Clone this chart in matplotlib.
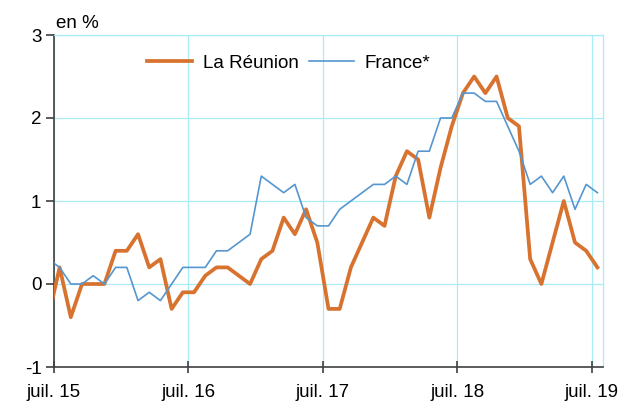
import matplotlib
matplotlib.use("Agg")
import matplotlib.pyplot as plt
import numpy as np

plt.rcParams['font.family'] = ['Liberation Sans', 'DejaVu Sans']

# monthly values, jun 2015 .. jul 2019 (first point falls just left of the axis)
reunion = [-0.4, 0.2, -0.4, 0.0, 0.0, 0.0, 0.4, 0.4, 0.6, 0.2, 0.3, -0.3, -0.1,
           -0.1, 0.1, 0.2, 0.2, 0.1, 0.0, 0.3, 0.4, 0.8, 0.6, 0.9, 0.5,
           -0.3, -0.3, 0.2, 0.5, 0.8, 0.7, 1.3, 1.6, 1.5, 0.8, 1.4, 1.9,
           2.3, 2.5, 2.3, 2.5, 2.0, 1.9, 0.3, 0.0, 0.5, 1.0, 0.5, 0.4, 0.2]
france = [0.3, 0.2, 0.0, 0.0, 0.1, 0.0, 0.2, 0.2, -0.2, -0.1, -0.2, 0.0, 0.2,
          0.2, 0.2, 0.4, 0.4, 0.5, 0.6, 1.3, 1.2, 1.1, 1.2, 0.8, 0.7,
          0.7, 0.9, 1.0, 1.1, 1.2, 1.2, 1.3, 1.2, 1.6, 1.6, 2.0, 2.0,
          2.3, 2.3, 2.2, 2.2, 1.9, 1.6, 1.2, 1.3, 1.1, 1.3, 0.9, 1.2, 1.1]
tick_labels = ['juil. 15', 'juil. 16', 'juil. 17', 'juil. 18', 'juil. 19']

months = np.arange(-1, len(reunion) - 1) + 0.5  # points sit mid-month
grid_col = '#a8ecf8'
axis_col = '#404040'

fig = plt.figure(figsize=(6.25, 4.01), dpi=100)
ax = fig.add_axes([54 / 625, 34 / 401, 549 / 625, 332 / 401])

ax.plot(months, reunion, color='#d8722f', lw=2.7, label='La Réunion', zorder=3)
ax.plot(months, france, color='#5596d0', lw=1.2, label='France*', zorder=4)

ax.set_xlim(0, 49)
ax.set_ylim(-1, 3)
ax.set_xticks([0, 12, 24, 36, 48])
ax.set_xticklabels(tick_labels)
ax.set_yticks([-1, 0, 1, 2, 3])
ax.set_yticklabels(['-1', '0', '1', '2', '3'])

ax.grid(True, color=grid_col, lw=0.9)
ax.set_axisbelow(True)
for s in ['top', 'right']:
    ax.spines[s].set_color(grid_col)
    ax.spines[s].set_linewidth(0.9)
for s in ['left', 'bottom']:
    ax.spines[s].set_color(axis_col)
    ax.spines[s].set_linewidth(1.2)

ax.tick_params(axis='x', direction='inout', length=8, width=1.2, color=axis_col,
               labelsize=13.5, pad=8)
ax.tick_params(axis='y', direction='out', length=6, width=1.2, color=axis_col,
               labelsize=13.5, pad=3)

ax.text(0.004, 1.008, 'en %', transform=ax.transAxes, ha='left', va='bottom',
        fontsize=13.5)

ax.legend(loc='center left', bbox_to_anchor=(147 / 625, 1 - 63 / 401),
          bbox_transform=fig.transFigure, ncol=2, frameon=False, fontsize=13.5,
          borderpad=0, borderaxespad=0, handlelength=2.4, handletextpad=0.6,
          columnspacing=0.5)

fig.savefig('out.png', dpi=100)
